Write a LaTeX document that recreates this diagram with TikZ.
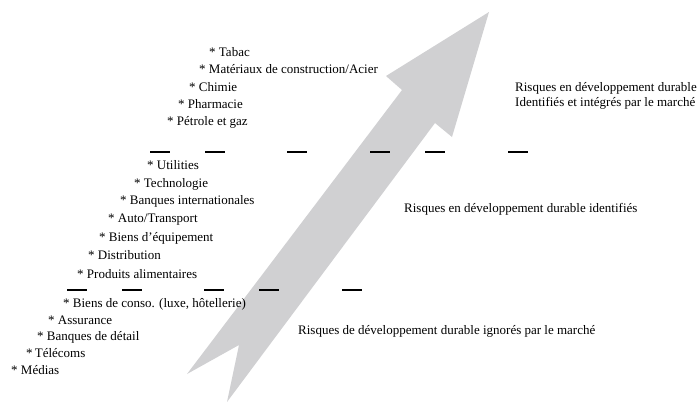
\documentclass[tikz,border=0pt]{standalone}
\usepackage{fontspec}
\setmainfont{Liberation Serif}
\definecolor{arrowgray}{RGB}{208,208,210}
\begin{document}
\begin{tikzpicture}[x=1bp,y=-1bp,
  lbl/.style={anchor=base west, inner sep=0pt, font=\fontsize{13bp}{15bp}\selectfont},
  dashline/.style={line width=2bp, black}]
\useasboundingbox (0,0) rectangle (699,401);
% big arrow
\fill[arrowgray] (489,12) -- (452,137) -- (435,123) -- (227,402) -- (239,345)
  -- (187,374) -- (402,90) -- (386,76) -- cycle;
% dashes row 1
\foreach \x in {150,205,287,370,425,508} \draw[dashline] (\x,152) -- ++(20,0);
% dashes row 2
\foreach \x in {67,122,204,259,342} \draw[dashline] (\x,290) -- ++(20,0);
% top list
\node[lbl] (t1) at (209,56) {* Tabac};
\node[lbl] (t2) at (199,73) {* Matériaux de construction/Acier};
\node[lbl] (t3) at (189,91) {* Chimie};
\node[lbl] (t4) at (178,108) {* Pharmacie};
\node[lbl] (t5) at (167,125) {* Pétrole et gaz};
% middle list
\node[lbl] (m1) at (147,169) {* Utilities};
\node[lbl] (m2) at (134,187) {* Technologie};
\node[lbl] (m3) at (120,204) {* Banques internationales};
\node[lbl] (m4) at (108,222) {* Auto/Transport};
\node[lbl] (m5) at (99,241) {* Biens d’équipement};
\node[lbl] (m6) at (88,259) {* Distribution};
\node[lbl] (m7) at (77,278) {* Produits alimentaires};
% bottom list
\node[lbl] (b1) at (63,307) {* Biens de conso. (luxe, hôtellerie)};
\node[lbl] (b2) at (48,324) {* Assurance};
\node[lbl] (b3) at (37,340) {* Banques de détail};
\node[lbl] (b4) at (26,357) {*\,Télécoms};
\node[lbl] (b5) at (11,374) {* Médias};
% right labels
\node[lbl] (r1) at (515,91) {Risques en développement durable};
\node[lbl] (r2) at (515,106) {Identifiés et intégrés par le marché};
\node[lbl] (r3) at (404,212) {Risques en développement durable identifiés};
\node[lbl] (r4) at (298,334) {Risques de développement durable ignorés par le marché};
\end{tikzpicture}
\end{document}
